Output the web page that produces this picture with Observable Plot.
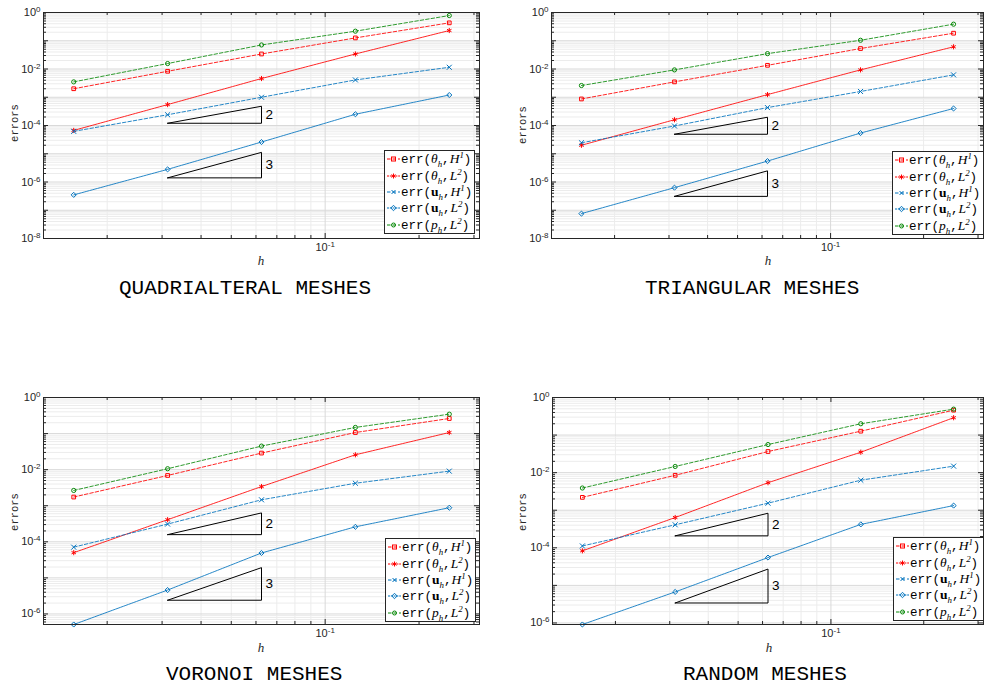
<!DOCTYPE html>
<html><head><meta charset="utf-8">
<script src="https://cdn.jsdelivr.net/npm/d3@7"></script>
<script src="https://cdn.jsdelivr.net/npm/@observablehq/plot@0.6"></script>
<style>
body{margin:0;background:#fff;}
#root{position:relative;width:985px;height:689px;overflow:hidden;background:#fff;}
.panel{position:absolute;}
.legend{position:absolute;background:#fff;border:1px solid #262626;box-sizing:border-box;padding:0 2px;}
.row{display:flex;align-items:center;height:16.4px;font-family:"Liberation Mono",monospace;font-size:12.5px;white-space:nowrap;color:#000;}
.row svg{flex:none;margin-right:1px;}
.m{font-family:"Liberation Serif",serif;font-style:italic;font-size:13.5px;}
.mb{font-family:"Liberation Serif",serif;font-weight:bold;font-size:13.5px;}
sub,sup{font-size:0.66em;line-height:0;}
#over{position:absolute;left:0;top:0;}
</style></head>
<body><div id="root"></div>
<script>
// ---- data ----
const h = [1/64, 1/32, 1/16, 1/8, 1/4];
const xDomain = [0.0125, 0.3125];
const seriesKeys = ["thetaH1", "thetaL2", "uH1", "uL2", "pL2"];
const yLabelTicks = [1, 1e-2, 1e-4, 1e-6, 1e-8];
const xLabelTicks = [1e-1];
const triangleSlopes = [2, 3];

// Quadrilateral meshes
const quadThetaH1 = [2.0e-3, 8.3e-3, 3.4e-2, 0.126, 0.43];
const quadThetaL2 = [6.7e-5, 5.5e-4, 4.6e-3, 3.4e-2, 0.23];
const quadUH1 = [6.2e-5, 2.4e-4, 1.0e-3, 4.1e-3, 1.15e-2];
const quadUL2 = [3.5e-7, 2.8e-6, 2.6e-5, 2.5e-4, 1.2e-3];
const quadPL2 = [3.5e-3, 1.56e-2, 7.1e-2, 0.218, 0.78];
const quadTriangleBase = [1.2e-4, 1.4e-6];
const quadYDomain = [1e-8, 1];

// Triangular meshes
const triThetaH1 = [8.7e-4, 3.5e-3, 1.35e-2, 5.3e-2, 0.185];
const triThetaL2 = [2.0e-5, 1.6e-4, 1.24e-3, 9.3e-3, 6.1e-2];
const triUH1 = [2.45e-5, 9.6e-5, 4.3e-4, 1.6e-3, 6.2e-3];
const triUL2 = [7.6e-8, 6.3e-7, 5.5e-6, 5.4e-5, 4.0e-4];
const triPL2 = [2.6e-3, 9.3e-3, 3.5e-2, 0.104, 0.386];
const triTriangleBase = [4.9e-5, 3.1e-7];
const triYDomain = [1e-8, 1];

// Voronoi meshes
const vorThetaH1 = [1.74e-3, 6.9e-3, 2.88e-2, 0.107, 0.262];
const vorThetaL2 = [5.0e-5, 4.1e-4, 3.4e-3, 2.58e-2, 0.107];
const vorUH1 = [7.1e-5, 3.1e-4, 1.46e-3, 4.2e-3, 9.1e-3];
const vorUL2 = [5.1e-7, 4.6e-6, 4.9e-5, 2.6e-4, 8.8e-4];
const vorPL2 = [2.65e-3, 1.06e-2, 4.5e-2, 0.148, 0.345];
const vorTriangleBase = [1.58e-4, 2.4e-6];
const vorYDomain = [5.1e-7, 1];

// Random meshes
const rndThetaH1 = [2.2e-3, 8.5e-3, 3.65e-2, 0.127, 0.46];
const rndThetaL2 = [8.3e-5, 6.4e-4, 5.4e-3, 3.5e-2, 0.29];
const rndUH1 = [1.12e-4, 4.1e-4, 1.54e-3, 6.3e-3, 1.49e-2];
const rndUL2 = [9.1e-7, 6.7e-6, 5.5e-5, 4.2e-4, 1.33e-3];
const rndPL2 = [3.9e-3, 1.46e-2, 5.6e-2, 0.2, 0.49];
const rndTriangleBase = [2.08e-4, 3.4e-6];
const rndYDomain = [9.1e-7, 1];

const titles = ["QUADRIALTERAL MESHES", "TRIANGULAR MESHES", "VORONOI MESHES", "RANDOM MESHES"];

// ---- styles ----
const styles = {
  thetaH1: {stroke: "#ff0000", dash: "3.5,2", symbol: "square", r: 2.1},
  thetaL2: {stroke: "#ff0000", dash: "2,0.8", symbol: "asterisk", r: 2.4},
  uH1: {stroke: "#0072bd", dash: "3.5,2", symbol: "times", r: 2.4},
  uL2: {stroke: "#0072bd", dash: "2,0.8", symbol: "diamond2", r: 2.3},
  pL2: {stroke: "#0a8a0a", dash: "3.5,2", symbol: "circle", r: 2.1}
};
const legendHTML = {
  thetaH1: 'err(<i class="m">θ<sub>h</sub></i>,<i class="m">H<sup>1</sup></i>)',
  thetaL2: 'err(<i class="m">θ<sub>h</sub></i>,<i class="m">L<sup>2</sup></i>)',
  uH1: 'err(<b class="mb">u</b><i class="m"><sub>h</sub></i>,<i class="m">H<sup>1</sup></i>)',
  uL2: 'err(<b class="mb">u</b><i class="m"><sub>h</sub></i>,<i class="m">L<sup>2</sup></i>)',
  pL2: 'err(<i class="m">p<sub>h</sub></i>,<i class="m">L<sup>2</sup></i>)'
};

const panels = [
  {series: [quadThetaH1, quadThetaL2, quadUH1, quadUL2, quadPL2], tri: quadTriangleBase, yDomain: quadYDomain,
   left: 0, top: 0, width: 490, height: 258, ml: 43, mr: 11, mt: 12, mb: 20,
   legend: [384, 150, 91, 84], title: [119, 294], xlab: [261, 265], ylab: [14, 123]},
  {series: [triThetaH1, triThetaL2, triUH1, triUL2, triPL2], tri: triTriangleBase, yDomain: triYDomain,
   left: 490, top: 0, width: 495, height: 258, ml: 61, mr: 2, mt: 12, mb: 20,
   legend: [892, 151, 92, 84], title: [645, 294], xlab: [768, 265], ylab: [522, 125]},
  {series: [vorThetaH1, vorThetaL2, vorUH1, vorUL2, vorPL2], tri: vorTriangleBase, yDomain: vorYDomain,
   left: 0, top: 385, width: 490, height: 259, ml: 43, mr: 11, mt: 12, mb: 20,
   legend: [385, 538, 91, 84], title: [166, 680], xlab: [261, 652], ylab: [14, 512]},
  {series: [rndThetaH1, rndThetaL2, rndUH1, rndUL2, rndPL2], tri: rndTriangleBase, yDomain: rndYDomain,
   left: 490, top: 385, width: 495, height: 259, ml: 62, mr: 2, mt: 12, mb: 20,
   legend: [893, 537, 91, 84], title: [683, 680], xlab: [769, 652], ylab: [522, 512]}
];

const root = document.getElementById("root");
const font = "'Liberation Sans', Arial, Helvetica, sans-serif";

function minorTicks(domain) {
  const out = [];
  for (let e = -10; e <= 1; e++) for (let k = 2; k <= 9; k++) {
    const v = k * 10 ** e;
    if (v >= domain[0] * 0.9999 && v <= domain[1] * 1.0001) out.push(v);
  }
  return out;
}
function decadeTicks(domain) {
  const out = [];
  for (let e = -10; e <= 1; e++) { const v = 10 ** e; if (v >= domain[0] * 0.9999 && v <= domain[1] * 1.0001) out.push(v); }
  return out;
}
const fmtPow = v => "10^" + Math.round(Math.log10(v));

panels.forEach((p, pi) => {
  const fw = p.width - p.ml - p.mr, fh = p.height - p.mt - p.mb;
  const yMinor = minorTicks(p.yDomain), yDec = decadeTicks(p.yDomain);
  const xMinor = minorTicks(xDomain), xDec = decadeTicks(xDomain);
  const tick = "#262626";
  const marks = [
    Plot.ruleY(yMinor, {stroke: "#ececec"}),
    Plot.ruleX(xMinor, {stroke: "#ececec"}),
    Plot.ruleY(yDec, {stroke: "#d9d9d9"}),
    Plot.ruleX(xDec, {stroke: "#d9d9d9"}),
    Plot.ruleY(yDec, {stroke: tick, insetRight: fw - 5}),
    Plot.ruleY(yDec, {stroke: tick, insetLeft: fw - 5}),
    Plot.ruleY(yMinor, {stroke: tick, insetRight: fw - 3}),
    Plot.ruleY(yMinor, {stroke: tick, insetLeft: fw - 3}),
    Plot.ruleX(xDec, {stroke: tick, insetTop: fh - 5}),
    Plot.ruleX(xDec, {stroke: tick, insetBottom: fh - 5}),
    Plot.ruleX(xMinor, {stroke: tick, insetTop: fh - 3}),
    Plot.ruleX(xMinor, {stroke: tick, insetBottom: fh - 3}),
    Plot.axisY(yLabelTicks.filter(v => v >= p.yDomain[0] * 0.9999), {anchor: "left", tickSize: 0, tickPadding: 3, tickFormat: fmtPow, fontSize: 11, fill: "#262626", label: null}),
    Plot.axisX(xLabelTicks, {anchor: "bottom", tickSize: 0, tickPadding: 5, tickFormat: fmtPow, fontSize: 11, fill: "#262626", label: null})
  ];
  // slope triangles
  p.tri.forEach((base, i) => {
    const s = triangleSlopes[i];
    const top = base * (h[2] / h[1]) ** s;
    const pts = [{x: h[1], y: base}, {x: h[2], y: base}, {x: h[2], y: top}, {x: h[1], y: base}];
    marks.push(Plot.line(pts, {x: "x", y: "y", stroke: "#000", strokeWidth: 1}));
    marks.push(Plot.text([{x: h[2], y: Math.sqrt(base * top), t: String(s)}], {x: "x", y: "y", text: "t", dx: 4, textAnchor: "start", fontSize: 13.5, fill: "#000", fontFamily: font}));
  });
  // series
  p.series.forEach((vals, i) => {
    const st = styles[seriesKeys[i]];
    const rows = vals.map((v, j) => ({h: h[j], err: v}));
    marks.push(Plot.line(rows, {x: "h", y: "err", stroke: st.stroke, strokeWidth: 1, strokeDasharray: st.dash, strokeOpacity: 0.85}));
    marks.push(Plot.dot(rows, {x: "h", y: "err", stroke: st.stroke, symbol: st.symbol, r: st.r, strokeWidth: 1, fill: "none"}));
  });
  marks.push(Plot.frame({stroke: "#262626", strokeWidth: 1}));

  const svg = Plot.plot({
    width: p.width, height: p.height,
    marginLeft: p.ml, marginRight: p.mr, marginTop: p.mt, marginBottom: p.mb,
    style: {fontFamily: font, background: "transparent"},
    x: {type: "log", domain: xDomain},
    y: {type: "log", domain: p.yDomain},
    marks
  });
  // superscript exponents on tick labels
  svg.querySelectorAll("text").forEach(t => {
    if (t.textContent.includes("^")) {
      const [b, e] = t.textContent.split("^");
      t.textContent = b;
      const ts = document.createElementNS("http://www.w3.org/2000/svg", "tspan");
      ts.setAttribute("dy", "-0.5em");
      ts.setAttribute("font-size", "8px");
      ts.textContent = e;
      t.appendChild(ts);
    }
  });
  const div = document.createElement("div");
  div.className = "panel";
  div.style.left = p.left + "px"; div.style.top = p.top + "px";
  div.appendChild(svg);
  root.appendChild(div);
});

// overlay texts: titles, x labels, y labels
const ns = "http://www.w3.org/2000/svg";
const over = document.createElementNS(ns, "svg");
over.setAttribute("id", "over");
over.setAttribute("width", 985); over.setAttribute("height", 689);
panels.forEach((p, i) => {
  const t = document.createElementNS(ns, "text");
  t.setAttribute("x", p.title[0]); t.setAttribute("y", p.title[1]);
  t.setAttribute("font-family", "'Liberation Mono', monospace"); t.setAttribute("font-size", "21px");
  t.textContent = titles[i];
  over.appendChild(t);
  const xl = document.createElementNS(ns, "text");
  xl.setAttribute("x", p.xlab[0]); xl.setAttribute("y", p.xlab[1]);
  xl.setAttribute("text-anchor", "middle");
  xl.setAttribute("font-family", "'Liberation Serif', serif"); xl.setAttribute("font-style", "italic"); xl.setAttribute("font-size", "13px");
  xl.setAttribute("fill", "#262626");
  xl.textContent = "h";
  over.appendChild(xl);
  const yl = document.createElementNS(ns, "text");
  yl.setAttribute("transform", `translate(${p.ylab[0]},${p.ylab[1]}) rotate(-90)`);
  yl.setAttribute("text-anchor", "middle"); yl.setAttribute("dy", "0.35em");
  yl.setAttribute("font-family", "'Liberation Mono', monospace"); yl.setAttribute("font-size", "10.5px");
  yl.setAttribute("fill", "#262626");
  yl.textContent = "errors";
  over.appendChild(yl);
});
root.appendChild(over);

// legends
function sampleSVG(st) {
  const c = st.stroke;
  let m = "";
  if (st.symbol === "square") m = `<rect x="4.5" y="3" width="4" height="4" fill="none" stroke="${c}"/>`;
  else if (st.symbol === "asterisk") m = `<path d="M6.5,2.5v5M4.3,3.7l4.4,2.6M4.3,6.3l4.4,-2.6" stroke="${c}"/>`;
  else if (st.symbol === "times") m = `<path d="M4.5,3l4,4M4.5,7l4,-4" stroke="${c}"/>`;
  else if (st.symbol === "diamond2") m = `<path d="M6.5,2.3l2.7,2.7l-2.7,2.7l-2.7,-2.7z" fill="none" stroke="${c}"/>`;
  else m = `<circle cx="6.5" cy="5" r="2" fill="none" stroke="${c}"/>`;
  return `<svg width="13" height="10"><line x1="0" y1="5" x2="13" y2="5" stroke="${c}" stroke-dasharray="${st.dash}"/>${m}</svg>`;
}
panels.forEach(p => {
  const lg = document.createElement("div");
  lg.className = "legend";
  lg.style.left = p.legend[0] + "px"; lg.style.top = p.legend[1] + "px";
  lg.style.width = p.legend[2] + "px"; lg.style.height = p.legend[3] + "px";
  lg.innerHTML = seriesKeys.map(k => `<div class="row">${sampleSVG(styles[k])}<span>${legendHTML[k]}</span></div>`).join("");
  root.appendChild(lg);
});
</script>
</body></html>
